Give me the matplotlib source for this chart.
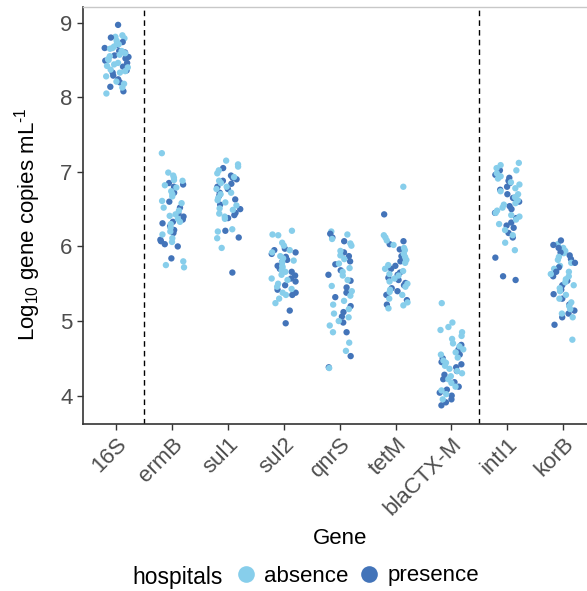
import numpy as np
import matplotlib
matplotlib.use("Agg")
import matplotlib.pyplot as plt
from matplotlib.lines import Line2D

plt.rcParams['font.family'] = ['Liberation Sans', 'DejaVu Sans']
plt.rcParams['mathtext.fontset'] = 'custom'
plt.rcParams['mathtext.rm'] = 'Liberation Sans'

genes = ['16S', 'ermB', 'sul1', 'sul2', 'qnrS', 'tetM', 'blaCTX-M', 'intI1', 'korB']

# log10 copies per mL, hospitals absent upstream
absence = {
    '16S': [8.83, 8.81, 8.79, 8.76, 8.73, 8.71, 8.68, 8.66, 8.65, 8.62, 8.59, 8.57, 8.55,
            8.51, 8.50, 8.46, 8.44, 8.42, 8.40, 8.37, 8.35, 8.33, 8.28, 8.21, 8.18, 8.13, 8.05],
    'ermB': [7.25, 6.99, 6.95, 6.92, 6.89, 6.88, 6.82, 6.79, 6.74, 6.70, 6.67, 6.61, 6.58, 6.52,
             6.48, 6.43, 6.41, 6.37, 6.33, 6.30, 6.25, 6.20, 6.16, 6.11, 6.06, 5.80, 5.75, 5.72],
    'sul1': [7.15, 7.10, 7.07, 7.02, 6.98, 6.93, 6.88, 6.85, 6.80, 6.77, 6.72, 6.70, 6.65,
             6.62, 6.59, 6.55, 6.51, 6.49, 6.44, 6.40, 6.37, 6.23, 6.20, 6.11, 5.98],
    'sul2': [6.21, 6.16, 6.15, 6.05, 6.01, 5.95, 5.92, 5.87, 5.84, 5.81, 5.79, 5.74, 5.72,
             5.68, 5.66, 5.62, 5.57, 5.55, 5.50, 5.46, 5.43, 5.38, 5.35, 5.30, 5.24],
    'qnrS': [6.20, 6.16, 6.10, 6.04, 6.01, 5.94, 5.88, 5.83, 5.77, 5.71, 5.66, 5.61, 5.55, 5.47,
             5.40, 5.34, 5.27, 5.22, 5.16, 5.10, 5.05, 5.00, 4.94, 4.85, 4.71, 4.60, 4.37],
    'tetM': [6.80, 6.15, 6.12, 6.08, 6.02, 5.98, 5.95, 5.90, 5.86, 5.82, 5.78, 5.75, 5.70, 5.67,
             5.63, 5.61, 5.57, 5.53, 5.50, 5.46, 5.42, 5.39, 5.35, 5.30, 5.25, 5.21, 5.17],
    'blaCTX-M': [5.24, 4.98, 4.92, 4.88, 4.85, 4.80, 4.76, 4.70, 4.66, 4.62, 4.58, 4.55, 4.51,
                 4.47, 4.44, 4.40, 4.36, 4.33, 4.30, 4.26, 4.22, 4.17, 4.12, 4.07, 4.02, 3.95],
    'intI1': [7.12, 7.09, 7.05, 7.02, 6.98, 6.94, 6.91, 6.86, 6.83, 6.78, 6.74, 6.70, 6.66, 6.62,
              6.58, 6.56, 6.52, 6.48, 6.45, 6.42, 6.40, 6.36, 6.30, 6.22, 6.15, 6.05, 5.95],
    'korB': [6.03, 5.98, 5.94, 5.91, 5.86, 5.82, 5.78, 5.74, 5.70, 5.66, 5.63, 5.60, 5.56,
             5.52, 5.48, 5.44, 5.40, 5.35, 5.30, 5.25, 5.20, 5.16, 5.10, 5.05, 4.75],
}

# hospitals present upstream
presence = {
    '16S': [8.97, 8.80, 8.74, 8.70, 8.66, 8.62, 8.60, 8.56, 8.54, 8.52, 8.49, 8.46, 8.41,
            8.36, 8.33, 8.29, 8.24, 8.20, 8.14, 8.08],
    'ermB': [6.85, 6.83, 6.80, 6.72, 6.60, 6.52, 6.44, 6.40, 6.36, 6.33, 6.31, 6.27, 6.22,
             6.18, 6.09, 6.07, 6.03, 6.00, 5.84],
    'sul1': [7.05, 6.95, 6.92, 6.90, 6.88, 6.84, 6.80, 6.77, 6.72, 6.68, 6.63, 6.56, 6.50,
             6.45, 6.42, 6.38, 6.21, 6.12, 5.65],
    'sul2': [5.97, 5.95, 5.92, 5.90, 5.86, 5.82, 5.79, 5.74, 5.70, 5.66, 5.61, 5.57, 5.53,
             5.48, 5.42, 5.38, 5.35, 5.14, 4.97],
    'qnrS': [6.17, 6.12, 6.07, 5.92, 5.87, 5.80, 5.76, 5.68, 5.62, 5.54, 5.45, 5.38, 5.32,
             5.20, 5.12, 5.06, 4.98, 4.85, 4.53, 4.38],
    'tetM': [6.43, 6.07, 6.03, 5.96, 5.87, 5.80, 5.74, 5.70, 5.65, 5.62, 5.58, 5.55, 5.51,
             5.48, 5.44, 5.40, 5.35, 5.28, 5.22],
    'blaCTX-M': [4.68, 4.62, 4.58, 4.55, 4.50, 4.45, 4.42, 4.38, 4.33, 4.28, 4.22, 4.18, 4.12,
                 4.08, 4.04, 4.00, 3.95, 3.91, 3.87],
    'intI1': [7.02, 6.96, 6.92, 6.88, 6.85, 6.80, 6.76, 6.70, 6.65, 6.60, 6.54, 6.50, 6.45,
              6.38, 6.32, 6.28, 6.25, 6.18, 6.12, 5.85, 5.60, 5.55],
    'korB': [6.08, 6.02, 5.98, 5.92, 5.88, 5.83, 5.78, 5.72, 5.66, 5.60, 5.54, 5.48, 5.42,
             5.36, 5.30, 5.22, 5.14, 5.10, 5.05, 4.95],
}

col_abs = '#87CEEB'
col_pre = '#4374B9'

fig = plt.figure(figsize=(5.87, 5.91), dpi=100)
ax = fig.add_axes([0.1414, 0.2826, 0.8748, 0.7056])


def spread(i, g):
    # deterministic hash in [0, 1) used for the horizontal strip spread
    h = np.sin(i * 12.9898 + g * 78.233) * 43758.5453
    return h - np.floor(h)


xs, ys, cs = [], [], []
for g, gene in enumerate(genes):
    a = absence[gene]
    p = presence[gene]
    vals, cols = [], []
    for k in range(max(len(a), len(p))):
        if k < len(a):
            vals.append(a[k]); cols.append(col_abs)
        if k < len(p):
            vals.append(p[k]); cols.append(col_pre)
    for i, (v, c) in enumerate(zip(vals, cols)):
        off = (spread(i + 1, g + 1) - 0.5) * 0.44
        xs.append(g + 1 + off)
        ys.append(v)
        cs.append(c)

ax.scatter(xs, ys, c=cs, s=21, linewidths=0, zorder=3)

for xv in (1.5, 7.5):
    ax.axvline(xv, color='black', lw=1.0, ls=(0, (4, 3)), zorder=2)

ax.set_xlim(0.4, 9.6)
ax.set_ylim(3.62, 9.21)
ax.set_xticks(range(1, len(genes) + 1))
ax.set_xticklabels(genes, rotation=45, ha='right', va='top', rotation_mode='anchor')
ax.set_yticks([4, 5, 6, 7, 8, 9])

for side in ('left', 'bottom'):
    ax.spines[side].set_color('#333333')
    ax.spines[side].set_linewidth(1.2)
ax.spines['right'].set_visible(False)
ax.spines['top'].set_color('#c8c8c8')
ax.spines['top'].set_linewidth(1.0)

ax.tick_params(axis='both', colors='#333333', length=4, width=1.0,
               labelsize=16, labelcolor='#4D4D4D')
ax.tick_params(axis='x', pad=3)

ax.set_xlabel('Gene', fontsize=16, labelpad=6)
ax.set_ylabel(r'Log$_{\mathregular{10}}$ gene copies mL$^{\text{-1}}$', fontsize=16)
ax.yaxis.set_label_coords(-0.077, 0.48)

# legend along the bottom with the title on the left
fig.text(132 / 587, 1 - 575 / 591, 'hospitals', fontsize=16.5, ha='left',
         va='center_baseline')
handles = [Line2D([], [], ls='none', marker='o', ms=12, mfc=col_abs, mec='none'),
           Line2D([], [], ls='none', marker='o', ms=12, mfc=col_pre, mec='none')]
fig.legend(handles, ['absence', 'presence'], loc='center left',
           bbox_to_anchor=(235 / 587, 1 - 576 / 591), ncol=2, frameon=False,
           fontsize=16, handletextpad=0.3, columnspacing=0.45, handlelength=1.0,
           borderaxespad=0, borderpad=0)

fig.savefig('out.png', dpi=100)
